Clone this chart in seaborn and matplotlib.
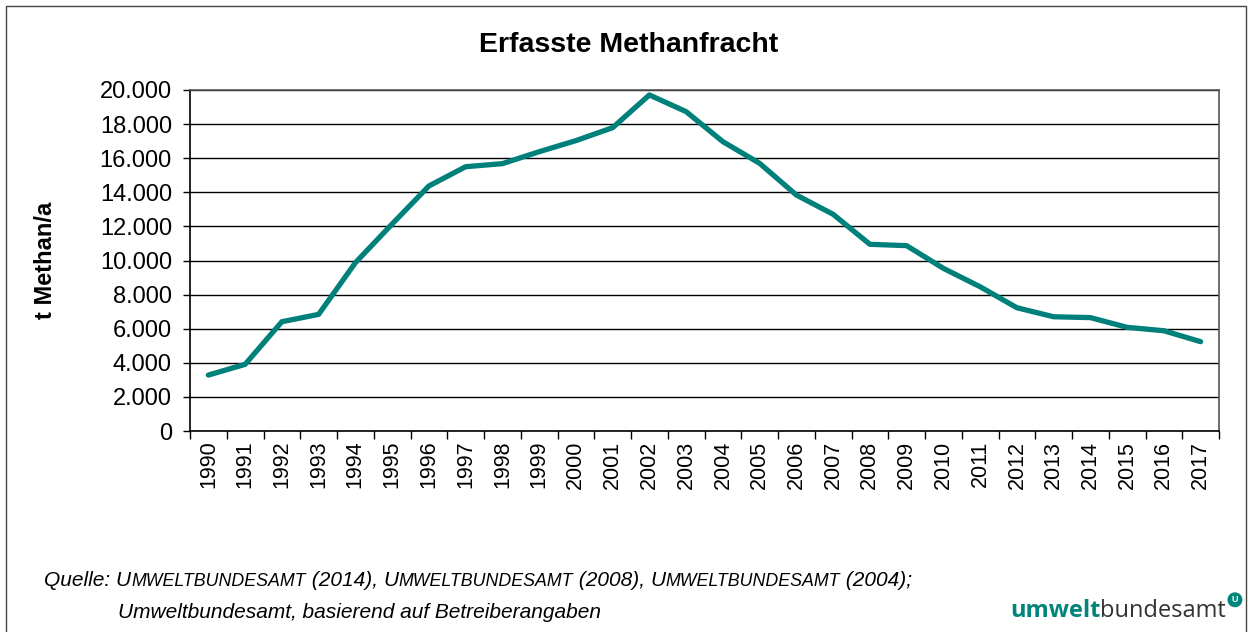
import numpy as np
import pandas as pd
import seaborn as sns
import matplotlib.pyplot as plt
from matplotlib.ticker import FuncFormatter, FixedLocator
from matplotlib.patches import Rectangle

years = list(range(1990, 2018))
methan = [3280, 3910, 6410, 6840, 9870, 12140, 14370, 15500, 15680, 16380,
          17030, 17790, 19710, 18730, 16970, 15700, 13840, 12710, 10950, 10870,
          9540, 8460, 7230, 6700, 6650, 6080, 5880, 5240]

df = pd.DataFrame({"Jahr": years, "t Methan/a": methan})

sns.set_style("white")
plt.rcParams['font.family'] = ['Liberation Sans', 'DejaVu Sans']
plt.rcParams['text.color'] = 'black'
plt.rcParams['xtick.color'] = 'black'
plt.rcParams['ytick.color'] = 'black'

fig = plt.figure(figsize=(12.53, 6.32), dpi=100)
ax = fig.add_axes([190 / 1253, 1 - 431 / 632, (1219 - 190) / 1253, (431 - 90) / 632])

sns.lineplot(data=df, x="Jahr", y="t Methan/a", color="#00807a", linewidth=3.8,
             ax=ax, solid_capstyle="round")

ax.set_xlim(1989.5, 2017.5)
ax.set_ylim(0, 20000)
ax.set_yticks(np.arange(0, 20001, 2000))
ax.yaxis.set_major_formatter(FuncFormatter(lambda v, p: f"{int(v):,}".replace(",", ".")))
ax.yaxis.grid(True, color="black", linewidth=1)
ax.set_axisbelow(True)

# Kategorienachse: Striche zwischen den Jahren, Beschriftung in der Mitte
ax.xaxis.set_major_locator(FixedLocator(np.arange(1989.5, 2018, 1)))
ax.xaxis.set_minor_locator(FixedLocator(years))
ax.set_xticklabels([])
ax.set_xticklabels([str(y) for y in years], minor=True, rotation=90)
ax.tick_params(axis="x", which="major", length=6, width=1, color="black", direction="out", bottom=True)
ax.tick_params(axis="x", which="minor", length=0, pad=7, labelsize=15.5, labelcolor="black")
ax.tick_params(axis="y", length=5, width=1, color="black", direction="out", left=True,
               labelsize=17, pad=8, labelcolor="black")

for s in ["left", "bottom"]:
    ax.spines[s].set_color("black")
    ax.spines[s].set_linewidth(1.2)
for s in ["top", "right"]:
    ax.spines[s].set_color("#555555")
    ax.spines[s].set_linewidth(1.2)

ax.set_xlabel("")
ax.set_ylabel("")
fig.text(45 / 1253, 1 - 260 / 632, "t Methan/a", rotation=90, ha="center", va="center",
         fontsize=17, fontweight="bold")
fig.text(0.502, 1 - 45 / 632, "Erfasste Methanfracht", ha="center", va="center",
         fontsize=20.5, fontweight="bold")

# Quellenangabe mit Kapitälchen, verkettet über annotate
big, small = 15, 12.8
parts = [("U", big), ("MWELTBUNDESAMT", small), (" (2014), ", big),
         ("U", big), ("MWELTBUNDESAMT", small), (" (2008), ", big),
         ("U", big), ("MWELTBUNDESAMT", small), (" (2004);", big)]
t = fig.text(44 / 1253, 1 - 586 / 632, "Quelle: ", fontsize=big,
             style="italic", va="baseline")
for txt, fs in parts:
    t = ax.annotate(txt, xy=(1, 0), xycoords=t, fontsize=fs, style="italic",
                    va="bottom", ha="left", annotation_clip=False)
fig.text(118 / 1253, 1 - 618 / 632, "Umweltbundesamt, basierend auf Betreiberangaben",
         fontsize=15, style="italic", va="baseline")

# Logo
lg = fig.text(1010 / 1253, 1 - 617 / 632, "umwelt", fontsize=17, fontweight="bold",
              color="#00857a", va="baseline", family="Open Sans")
lg2 = ax.annotate("bundesamt", xy=(1, 0), xycoords=lg, fontsize=17, color="#333333",
                  va="bottom", ha="left", annotation_clip=False, family="Open Sans")
ax.annotate("U", xy=(1, 0.78), xycoords=lg2, xytext=(4, 0), textcoords="offset points",
            fontsize=6.5, color="white", fontweight="bold", va="bottom", ha="left",
            annotation_clip=False,
            bbox=dict(boxstyle="circle,pad=0.25", fc="#00857a", ec="#00857a"))

# Rahmen um die Grafik
fig.patches.append(Rectangle((6 / 1253, -0.01), 1240 / 1253, 1 - 6 / 632 + 0.01,
                             transform=fig.transFigure, fill=False,
                             edgecolor="#444444", linewidth=1))

fig.savefig("out.png", dpi=100)
